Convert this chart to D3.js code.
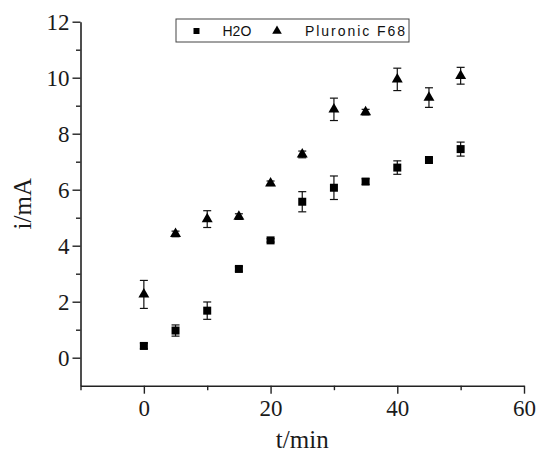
<!DOCTYPE html>
<html>
<head>
<meta charset="utf-8">
<script src="https://cdn.jsdelivr.net/npm/d3@7"></script>
<style>
  body { margin: 0; background: #fff; }
  svg { display: block; }
  .serif { font-family: "Liberation Serif", "Times New Roman", Times, serif; }
  .sans { font-family: "Liberation Sans", Arial, Helvetica, sans-serif; }
</style>
</head>
<body>
<div id="chart"></div>
<script>
// data
var times = [0, 5, 10, 15, 20, 25, 30, 35, 40, 45, 50];
var h2o = [0.42, 0.97, 1.68, 3.17, 4.19, 5.57, 6.07, 6.29, 6.79, 7.06, 7.45];
var h2oErr = [0.1, 0.2, 0.31, 0.08, 0.06, 0.36, 0.42, 0.1, 0.24, 0.08, 0.25];
var pluronic = [2.26, 4.42, 4.95, 5.04, 6.23, 7.26, 8.87, 8.77, 9.94, 9.29, 10.07];
var pluronicErr = [0.5, 0.1, 0.3, 0.1, 0.08, 0.12, 0.4, 0.1, 0.4, 0.35, 0.3];
var seriesNames = ["H2O", "Pluronic F68"];
var xTicks = [0, 20, 40, 60];
var xMinor = [-10, 10, 30, 50];
var yTicks = [0, 2, 4, 6, 8, 10, 12];
var yMinor = [1, 3, 5, 7, 9, 11];

// set the dimensions and margins of the graph
var margin = {top: 21.7, right: 14, bottom: 68.3, left: 80.5},
    width = 538 - margin.left - margin.right,
    height = 454 - margin.top - margin.bottom;

var svg = d3.select("#chart")
  .append("svg")
    .attr("width", 538)
    .attr("height", 454)
  .append("g")
    .attr("transform", "translate(" + margin.left + "," + margin.top + ")");

var x = d3.scaleLinear().domain([-10, 60]).range([0, width]);
var y = d3.scaleLinear().domain([-1, 12]).range([height, 0]);

// X axis
svg.append("g")
  .attr("transform", "translate(0," + height + ")")
  .call(d3.axisBottom(x).tickValues(xTicks).tickSize(8).tickSizeOuter(0).tickPadding(6));
svg.append("g")
  .attr("transform", "translate(0," + height + ")")
  .call(d3.axisBottom(x).tickValues(xMinor).tickSize(4.5).tickFormat(""))
  .select(".domain").remove();

// Y axis
svg.append("g")
  .call(d3.axisLeft(y).tickValues(yTicks).tickSize(8).tickSizeOuter(0).tickPadding(3));
svg.append("g")
  .call(d3.axisLeft(y).tickValues(yMinor).tickSize(4.5).tickFormat(""))
  .select(".domain").remove();

svg.selectAll(".domain").attr("stroke", "#222").attr("stroke-width", 1.6);
svg.selectAll(".tick line").attr("stroke", "#222").attr("stroke-width", 1.4);
svg.selectAll("g").attr("font-family", null);
svg.selectAll(".tick text")
  .attr("class", "serif")
  .attr("font-size", 23)
  .attr("fill", "#1a1a1a");

// axis labels
svg.append("text")
  .attr("class", "serif")
  .attr("text-anchor", "middle")
  .attr("x", width / 2)
  .attr("y", height + 62)
  .attr("font-size", 25)
  .attr("fill", "#1a1a1a")
  .text("t/min");

svg.append("text")
  .attr("class", "serif")
  .attr("text-anchor", "middle")
  .attr("transform", "rotate(-90)")
  .attr("x", -height / 2)
  .attr("y", -50)
  .attr("font-size", 25)
  .attr("fill", "#1a1a1a")
  .text("i/mA");

// error bars + markers
function drawSeries(vals, errs, symbolType, size) {
  var data = times.map(function (t, i) { return {t: t, v: vals[i], e: errs[i]}; });
  var g = svg.append("g");
  var eb = g.selectAll(".eb").data(data).enter().append("g")
    .attr("stroke", "#111").attr("stroke-width", 1.2);
  eb.append("line")
    .attr("x1", function (d) { return x(d.t); })
    .attr("x2", function (d) { return x(d.t); })
    .attr("y1", function (d) { return y(d.v - d.e); })
    .attr("y2", function (d) { return y(d.v + d.e); });
  [-1, 1].forEach(function (s) {
    eb.append("line")
      .attr("x1", function (d) { return x(d.t) - 4; })
      .attr("x2", function (d) { return x(d.t) + 4; })
      .attr("y1", function (d) { return y(d.v + s * d.e); })
      .attr("y2", function (d) { return y(d.v + s * d.e); });
  });
  g.selectAll(".pt").data(data).enter().append("path")
    .attr("transform", function (d) { return "translate(" + x(d.t) + "," + y(d.v) + ")"; })
    .attr("d", d3.symbol().type(symbolType).size(size))
    .attr("fill", "#000");
}
drawSeries(h2o, h2oErr, d3.symbolSquare, 64);
drawSeries(pluronic, pluronicErr, d3.symbolTriangle, 52);

// legend
var lg = svg.append("g").attr("transform", "translate(" + (176 - margin.left) + "," + (19 - margin.top) + ")");
lg.append("rect")
  .attr("x", 0).attr("y", 0)
  .attr("width", 233).attr("height", 23)
  .attr("fill", "#fff")
  .attr("stroke", "#444")
  .attr("stroke-width", 1);
var legendItems = [
  {name: seriesNames[0], sym: d3.symbolSquare, size: 36, mx: 20.5, tx: 46.5},
  {name: seriesNames[1], sym: d3.symbolTriangle, size: 40, mx: 101, tx: 129}
];
legendItems.forEach(function (d, i) {
  lg.append("path")
    .attr("transform", "translate(" + d.mx + ",12)")
    .attr("d", d3.symbol().type(d.sym).size(d.size))
    .attr("fill", "#000");
  var t = lg.append("text")
    .attr("class", "sans")
    .attr("x", d.tx)
    .attr("y", 16.5)
    .attr("font-size", 14)
    .attr("fill", "#111")
    .text(d.name);
  if (i === 1) t.attr("textLength", 100).attr("lengthAdjust", "spacing");
});
</script>
</body>
</html>
